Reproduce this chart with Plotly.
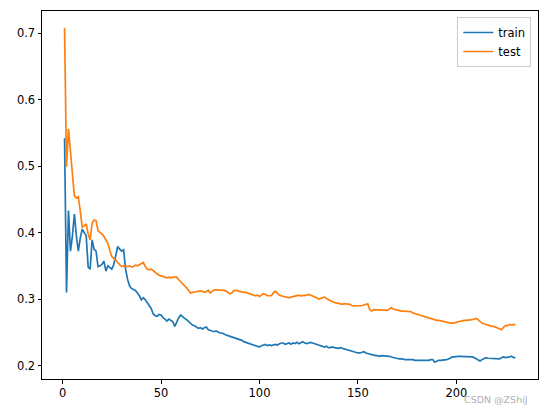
import plotly.graph_objects as go

epochs = list(range(1, 231))

train = [
    0.542, 0.310, 0.433, 0.372, 0.395, 0.428, 0.395, 0.372, 0.392, 0.405,
    0.400, 0.395, 0.348, 0.345, 0.389, 0.375, 0.372, 0.349, 0.350, 0.352,
    0.357, 0.342, 0.350, 0.347, 0.345, 0.352, 0.365, 0.379, 0.375, 0.372,
    0.374, 0.345, 0.330, 0.320, 0.316, 0.314, 0.313, 0.309, 0.305, 0.299,
    0.302, 0.299, 0.294, 0.289, 0.286, 0.278, 0.275, 0.274, 0.277, 0.276,
    0.272, 0.270, 0.267, 0.270, 0.268, 0.266, 0.259, 0.266, 0.272, 0.276,
    0.273, 0.271, 0.269, 0.266, 0.263, 0.261, 0.260, 0.258, 0.256, 0.257,
    0.255, 0.257, 0.258, 0.254, 0.253, 0.252, 0.251, 0.252, 0.250, 0.249,
    0.249, 0.247, 0.246, 0.245, 0.244, 0.243, 0.243, 0.241, 0.240, 0.239,
    0.238, 0.236, 0.235, 0.234, 0.234, 0.233, 0.232, 0.231, 0.229, 0.228,
    0.230, 0.231, 0.232, 0.230, 0.231, 0.230, 0.231, 0.232, 0.231, 0.233,
    0.234, 0.234, 0.232, 0.233, 0.234, 0.232, 0.234, 0.233, 0.235, 0.233,
    0.234, 0.236, 0.234, 0.233, 0.234, 0.235, 0.234, 0.233, 0.232, 0.232,
    0.230, 0.229, 0.228, 0.229, 0.227, 0.227, 0.228, 0.227, 0.226, 0.226,
    0.227, 0.226, 0.225, 0.225, 0.224, 0.223, 0.221, 0.221, 0.220, 0.219,
    0.219, 0.220, 0.221, 0.219, 0.218, 0.217, 0.216, 0.215, 0.215, 0.215,
    0.214, 0.215, 0.215, 0.214, 0.214, 0.214, 0.213, 0.212, 0.211, 0.211,
    0.210, 0.210, 0.209, 0.209, 0.209, 0.209, 0.210, 0.209, 0.208, 0.208,
    0.208, 0.208, 0.207, 0.207, 0.208, 0.208, 0.209, 0.209, 0.205, 0.207,
    0.208, 0.208, 0.208, 0.209, 0.209, 0.210, 0.212, 0.213, 0.213, 0.214,
    0.214, 0.214, 0.214, 0.214, 0.214, 0.214, 0.213, 0.213, 0.212, 0.210,
    0.208, 0.207, 0.209, 0.211, 0.212, 0.211, 0.211, 0.210, 0.210, 0.211,
    0.211, 0.210, 0.212, 0.213, 0.212, 0.212, 0.213, 0.214, 0.212, 0.212,
]

test = [
    0.708, 0.499, 0.556, 0.520, 0.480, 0.455, 0.452, 0.454, 0.432, 0.408,
    0.410, 0.413, 0.398, 0.389, 0.414, 0.419, 0.418, 0.403, 0.400, 0.398,
    0.394, 0.388, 0.384, 0.373, 0.364, 0.361, 0.359, 0.355, 0.352, 0.349,
    0.350, 0.349, 0.349, 0.350, 0.348, 0.349, 0.351, 0.350, 0.352, 0.354,
    0.355, 0.349, 0.345, 0.344, 0.345, 0.343, 0.340, 0.338, 0.336, 0.335,
    0.333, 0.332, 0.332, 0.333, 0.332, 0.333, 0.333, 0.333, 0.329, 0.326,
    0.324, 0.321, 0.317, 0.313, 0.309, 0.310, 0.310, 0.311, 0.312, 0.312,
    0.312, 0.310, 0.311, 0.313, 0.309, 0.312, 0.314, 0.314, 0.314, 0.314,
    0.314, 0.313, 0.312, 0.310, 0.308, 0.309, 0.313, 0.313, 0.312, 0.312,
    0.311, 0.310, 0.310, 0.309, 0.307, 0.306, 0.305, 0.305, 0.306, 0.304,
    0.306, 0.308, 0.307, 0.305, 0.305, 0.305, 0.309, 0.312, 0.309, 0.306,
    0.305, 0.304, 0.303, 0.302, 0.302, 0.303, 0.304, 0.305, 0.305, 0.306,
    0.305, 0.305, 0.306, 0.306, 0.307, 0.306, 0.304, 0.303, 0.302, 0.300,
    0.301, 0.302, 0.303, 0.301, 0.299, 0.298, 0.296, 0.295, 0.294, 0.293,
    0.293, 0.292, 0.293, 0.293, 0.292, 0.292, 0.290, 0.290, 0.289, 0.289,
    0.289, 0.290, 0.291, 0.292, 0.293, 0.284, 0.282, 0.284, 0.284, 0.284,
    0.283, 0.284, 0.283, 0.283, 0.283, 0.285, 0.287, 0.285, 0.284, 0.283,
    0.283, 0.282, 0.282, 0.282, 0.282, 0.282, 0.281, 0.279, 0.278, 0.277,
    0.276, 0.275, 0.274, 0.274, 0.273, 0.272, 0.270, 0.269, 0.268, 0.268,
    0.268, 0.268, 0.267, 0.266, 0.265, 0.264, 0.264, 0.264, 0.264, 0.265,
    0.266, 0.267, 0.267, 0.268, 0.268, 0.268, 0.269, 0.269, 0.270, 0.271,
    0.269, 0.266, 0.264, 0.263, 0.262, 0.260, 0.260, 0.259, 0.259, 0.258,
    0.257, 0.255, 0.254, 0.258, 0.260, 0.260, 0.262, 0.261, 0.262, 0.261,
]

x_ticks = [0, 50, 100, 150, 200]
y_ticks = [0.2, 0.3, 0.4, 0.5, 0.6, 0.7]

fig = go.Figure()
fig.add_trace(go.Scatter(x=epochs, y=train, mode="lines", name="train",
                         line=dict(color="#1f77b4", width=1.7)))
fig.add_trace(go.Scatter(x=epochs, y=test, mode="lines", name="test",
                         line=dict(color="#ff7f0e", width=1.7)))

axis_common = dict(showgrid=False, zeroline=False, showline=True, linecolor="black",
                   linewidth=1, mirror=True, ticks="outside", ticklen=3.5,
                   tickwidth=1, tickcolor="black", automargin=False,
                   tickfont=dict(family="DejaVu Sans", size=11.5, color="black"))

fig.update_xaxes(range=[-10.45, 241.45], tickvals=x_ticks,
                 ticktext=[str(v) for v in x_ticks], **axis_common)
fig.update_yaxes(range=[0.17985, 0.73315], tickvals=y_ticks,
                 ticktext=[f"{v:.1f}" for v in y_ticks], **axis_common)

# page body adds an 8px margin, so the figure is sized to fit the window
fig.update_layout(
    width=539, height=405,
    margin=dict(l=34, r=9.3, t=3, b=34),
    plot_bgcolor="white", paper_bgcolor="white",
    font=dict(family="DejaVu Sans", size=11.5, color="black"),
    legend=dict(x=0.9865, y=0.9837, xanchor="right", yanchor="top",
                bgcolor="rgba(255,255,255,0.8)", bordercolor="#cccccc", borderwidth=1,
                font=dict(family="DejaVu Sans", size=11.5, color="black"),
                itemwidth=30),
    showlegend=True,
    annotations=[dict(text="CSDN @ZShiJ", x=1.0, y=0.0, xref="paper", yref="paper",
                      xanchor="right", yanchor="top", xshift=-8, yshift=-13,
                      showarrow=False,
                      font=dict(family="DejaVu Sans", size=9.5, color="#b0b0b0"))],
)

fig.write_html("out.html")
